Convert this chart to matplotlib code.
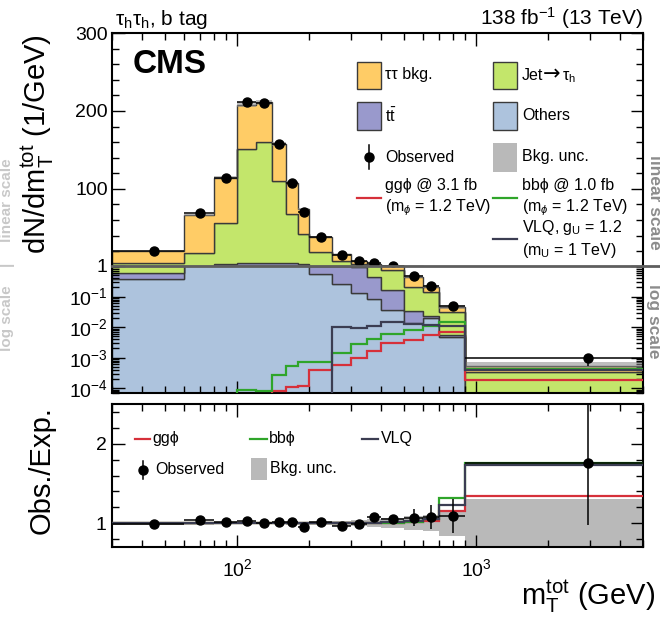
import numpy as np
import matplotlib
matplotlib.use("Agg")
import matplotlib.pyplot as plt
from matplotlib.lines import Line2D
from matplotlib.patches import Rectangle
from matplotlib.ticker import MultipleLocator, LogLocator, NullFormatter, FixedLocator

plt.rcParams["font.family"] = ["Liberation Sans", "DejaVu Sans"]
plt.rcParams["mathtext.fontset"] = "custom"
plt.rcParams["mathtext.rm"] = "Liberation Sans"
plt.rcParams["mathtext.it"] = "Liberation Sans:italic"
plt.rcParams["mathtext.bf"] = "Liberation Sans:bold"

# m_T^tot binning (GeV)
bin_edges = [30, 60, 80, 100, 120, 140, 160, 180, 200, 250, 300, 350, 400, 500, 600, 700, 900, 5000]

# background stack, events per GeV
bkg_tautau = [14.8, 49.7, 57.9, 57.2, 51.2, 47.0, 40.2, 32.8, 19.6, 8.0, 4.5, 3.15,
              0.61, 0.24, 0.072, 0.016, 0.00022]
bkg_jetfakes = [4.62, 15.7, 53.0, 145.6, 154.8, 105.5, 63.3, 38.1, 17.6, 6.8, 2.1, 0.6,
                0.575, 0.176, 0.115, 0.0254, 0.00028]
bkg_ttbar = [0.21, 0.3, 2.1, 3.6, 3.5, 3.6, 3.2, 2.5, 0.45, 0.75, 0.77, 0.37,
             0.13, 0.021, 0.0034, 0.001, 0.00002]
bkg_others = [0.37, 1.3, 1.5, 1.6, 1.5, 1.4, 1.3, 1.1, 0.55, 0.25, 0.13, 0.081,
              0.036, 0.0134, 0.0196, 0.0046, 0.00003]
bkg_rel_unc = [0.02, 0.02, 0.015, 0.015, 0.015, 0.015, 0.02, 0.02, 0.02, 0.03, 0.04, 0.05,
               0.06, 0.09, 0.10, 0.16, 0.30]

data_obs = [20.3, 69.4, 114.0, 212.0, 210.6, 157.0, 108.0, 70.7, 38.6, 15.1, 7.4, 4.4,
            1.4, 0.48, 0.23, 0.051, 0.00096]

# signal hypotheses
sig_ggphi = [0, 0, 0, 0, 0, 8.4e-5, 1.1e-4, 1.2e-4, 4.0e-4, 5.8e-4, 9.5e-4, 1.7e-3,
             3.0e-3, 3.8e-3, 5.6e-3, 7.1e-3, 1.9e-4]
sig_bbphi = [0, 0, 0, 8.9e-5, 8.3e-5, 2.7e-4, 5.5e-4, 7.5e-4, 7.5e-4, 1.47e-3, 2.8e-3, 4.1e-3,
             6.0e-3, 8.1e-3, 0.0112, 0.0151, 4.2e-4]
sig_vlq = [0, 0, 0, 0, 0, 0, 0, 0, 0, 0.0104, 0.0096, 0.0112,
           0.0151, 0.013, 0.012, 0.011, 4.0e-4]

# lower panel
ratio_obs = [0.99, 1.04, 1.01, 1.03, 1.00, 1.01, 1.01, 0.95, 1.01, 0.97, 0.99, 1.08,
             1.05, 1.07, 1.08, 1.09, 1.76]
ratio_err_lo = [0.01, 0.015, 0.01, 0.01, 0.01, 0.01, 0.01, 0.015, 0.015, 0.02, 0.03, 0.04,
                0.05, 0.11, 0.15, 0.22, 0.78]
ratio_err_hi = [0.01, 0.015, 0.01, 0.01, 0.01, 0.01, 0.01, 0.015, 0.015, 0.02, 0.03, 0.04,
                0.05, 0.11, 0.15, 0.22, 0.75]

C_TT = "#ffcc66"
C_JET = "#c3e66b"
C_TTBAR = "#9999cc"
C_OTH = "#adc3dd"
C_UNC = "#b9b9b9"
C_GG = "#d6303a"
C_BB = "#2fa52a"
C_VLQ = "#3b3d52"
EDGE = "#3a3a3a"

W, H = 660, 618


def fx(x):
    return x / W


def fy(y):
    return 1 - y / H


fig = plt.figure(figsize=(W / 100, H / 100), dpi=100)
L, R = 112, 643
ax_lin = fig.add_axes([fx(L), fy(266), fx(R) - fx(L), fy(33) - fy(266)])
ax_log = fig.add_axes([fx(L), fy(393), fx(R) - fx(L), fy(266) - fy(393)], sharex=ax_lin)
ax_rat = fig.add_axes([fx(L), fy(547), fx(R) - fx(L), fy(404) - fy(547)], sharex=ax_lin)

ax_lin.set_xscale("log")
ax_log.set_yscale("log", nonpositive="clip")
ax_lin.set_xlim(30, 5000)

edges = np.array(bin_edges, dtype=float)
centers = 0.5 * (edges[1:] + edges[:-1])
half = 0.5 * np.diff(edges)

# stacked backgrounds
base = np.full(len(centers), 1e-9)
for vals, col in [(bkg_others, C_OTH), (bkg_ttbar, C_TTBAR), (bkg_jetfakes, C_JET), (bkg_tautau, C_TT)]:
    top = base + np.array(vals)
    for ax in (ax_lin, ax_log):
        ax.stairs(top, edges, baseline=base.copy(), fill=True, facecolor=col,
                  edgecolor=EDGE, linewidth=1.0, zorder=1)
    base = top
total = base
unc = total * np.array(bkg_rel_unc)
for ax in (ax_lin, ax_log):
    ax.stairs(total + unc, edges, baseline=total - unc, fill=True, facecolor="#8a8a8a",
              alpha=0.55, linewidth=0, zorder=2)

# signals (log part only, they are below 1)
for sig, col in [(sig_ggphi, C_GG), (sig_bbphi, C_BB), (sig_vlq, C_VLQ)]:
    ax_log.stairs(np.array(sig, dtype=float), edges, baseline=None, color=col, linewidth=1.6, zorder=3)

obs = np.array(data_obs)
r_obs = np.array(ratio_obs)
yerr = np.array([obs * np.array(ratio_err_lo) / r_obs, obs * np.array(ratio_err_hi) / r_obs])
# each part of the split axis only shows the points in its own range
in_lin = obs >= 1
ax_lin.errorbar(centers[in_lin], obs[in_lin], xerr=half[in_lin], yerr=yerr[:, in_lin], fmt="o",
                color="k", ms=6.5, elinewidth=1.1, capsize=0, zorder=5)
ax_log.errorbar(centers, obs, xerr=half, yerr=yerr, fmt="o", color="k", ms=6.5,
                elinewidth=1.1, capsize=0, zorder=5)

# ratio panel
rel = np.array(bkg_rel_unc)
ax_rat.stairs(1 + rel, edges, baseline=1 - rel, fill=True, facecolor=C_UNC, linewidth=0, zorder=1)
for sig, col in [(sig_ggphi, C_GG), (sig_bbphi, C_BB), (sig_vlq, C_VLQ)]:
    ax_rat.stairs(1 + np.array(sig) / total, edges, baseline=None, color=col, linewidth=1.6, zorder=3)
ax_rat.errorbar(centers, r_obs, xerr=half, yerr=[ratio_err_lo, ratio_err_hi], fmt="o",
                color="k", ms=6.5, elinewidth=1.1, capsize=0, zorder=5)

# axes styling
TICK = 14
for ax in (ax_lin, ax_log, ax_rat):
    for sp in ax.spines.values():
        sp.set_linewidth(1.5)
    ax.tick_params(which="both", direction="in", top=True, right=True, width=1.0, labelsize=TICK)
    ax.tick_params(which="major", length=9)
    ax.tick_params(which="minor", length=5)
    ax.xaxis.set_minor_formatter(NullFormatter())

ax_lin.set_ylim(1, 300)
ax_lin.yaxis.set_major_locator(FixedLocator([100, 200, 300]))
ax_lin.yaxis.set_minor_locator(MultipleLocator(20))
ax_lin.spines["bottom"].set_visible(False)
ax_lin.tick_params(axis="x", which="both", bottom=False, labelbottom=False)
ax_lin.tick_params(axis="y", pad=3)

ax_log.set_ylim(7e-5, 1)
ax_log.yaxis.set_major_locator(FixedLocator([1e-4, 1e-3, 1e-2, 1e-1, 1]))
ax_log.set_yticklabels([r"$\mathregular{10^{-4}}$", r"$\mathregular{10^{-3}}$",
                        r"$\mathregular{10^{-2}}$", r"$\mathregular{10^{-1}}$", "1"])
ax_log.yaxis.set_minor_locator(LogLocator(base=10, subs=np.arange(2, 10), numticks=20))
ax_log.yaxis.set_minor_formatter(NullFormatter())
ax_log.spines["top"].set_visible(False)
ax_log.tick_params(axis="x", which="both", top=False, labelbottom=False)
ax_log.tick_params(axis="y", pad=3)

ax_rat.set_ylim(0.7, 2.5)
ax_rat.yaxis.set_major_locator(FixedLocator([1, 2]))
ax_rat.yaxis.set_minor_locator(MultipleLocator(0.2))
ax_rat.tick_params(axis="y", pad=4)
ax_rat.tick_params(axis="x", pad=8)

# boundary between linear and log parts
fig.add_artist(Line2D([fx(L), fx(W)], [fy(266), fy(266)], color="#5e5e5e", lw=2.0, zorder=10))

# axis titles
fig.text(fx(56), fy(34), r"$\mathregular{dN/dm_{T}^{tot}}$ (1/GeV)", rotation=90,
         ha="right", va="top", fontsize=21)
fig.text(fx(56), fy(470), "Obs./Exp.", rotation=90, ha="right", va="center", fontsize=21)
fig.text(fx(655), fy(605), r"$\mathregular{m_{T}^{tot}}$ (GeV)", ha="right", va="baseline", fontsize=21)

# headers
fig.text(fx(115), fy(25), r"τ$_\mathregular{h}$τ$_\mathregular{h}$, b tag", ha="left",
         va="baseline", fontsize=15)
fig.text(fx(643), fy(25), r"138 fb$^{\mathregular{-1}}$ (13 TeV)", ha="right",
         va="baseline", fontsize=15)
fig.text(fx(133), fy(73), "CMS", ha="left", va="baseline", fontsize=24, fontweight="bold")

# scale markers at the sides
fig.text(fx(654), fy(202), "linear scale", rotation=-90, ha="center", va="center",
         fontsize=12.5, fontweight="bold", color="#8c8c8c")
fig.text(fx(654), fy(321), "log scale", rotation=-90, ha="center", va="center",
         fontsize=12.5, fontweight="bold", color="#8c8c8c")
fig.text(fx(7), fy(200), "linear scale", rotation=90, ha="center", va="center",
         fontsize=11, fontweight="bold", color="#c8c8c8")
fig.text(fx(7), fy(264), "|", rotation=90, ha="center", va="center",
         fontsize=11, fontweight="bold", color="#c8c8c8")
fig.text(fx(7), fy(318), "log scale", rotation=90, ha="center", va="center",
         fontsize=11, fontweight="bold", color="#c8c8c8")

# legend of the upper panel
LEG = 11.5


def box(x0, y0, w, h, col, edge=EDGE):
    fig.add_artist(Rectangle((fx(x0), fy(y0 + h)), w / W, h / H, facecolor=col,
                             edgecolor=edge, lw=1.0 if edge != "none" else 0,
                             transform=fig.transFigure))


def hline(x0, x1, y, col):
    fig.add_artist(Line2D([fx(x0), fx(x1)], [fy(y), fy(y)], color=col, lw=1.6))


def obs_mark(x, y, dy):
    fig.add_artist(Line2D([fx(x), fx(x)], [fy(y - dy), fy(y + dy)], color="k", lw=1.1))
    fig.add_artist(Line2D([fx(x)], [fy(y)], marker="o", ms=6.5, color="k"))


def label(x, y, s):
    fig.text(fx(x), fy(y), s, ha="left", va="center", fontsize=LEG, linespacing=1.3)


c1_box, c1_txt = 357, 385
c2_box, c2_txt = 493, 522
box(c1_box, 62, 24, 27, C_TT)
label(c1_txt, 75, "ττ bkg.")
box(c2_box, 62, 24, 27, C_JET)
# Jet -> tau_h, arrow from DejaVu so it is full width
fig.text(fx(c2_txt), fy(80), "Jet", ha="left", va="baseline", fontsize=LEG)
fig.text(fx(543), fy(80), "→", ha="left", va="baseline", fontsize=15, family="DejaVu Sans")
fig.text(fx(562), fy(80), r"τ$_\mathregular{h}$", ha="left", va="baseline", fontsize=LEG)
box(c1_box, 102, 24, 28, C_TTBAR)
label(c1_txt, 116, r"$\mathregular{t\bar{t}}$")
box(c2_box, 102, 24, 28, C_OTH)
label(c2_txt, 116, "Others")
obs_mark(369, 157, 12)
label(c1_txt, 157, "Observed")
box(c2_box, 143, 24, 29, C_UNC, edge="none")
label(c2_txt, 156, "Bkg. unc.")
hline(c1_box, c1_box + 24, 198, C_GG)
label(c1_txt, 198, "ggϕ @ 3.1 fb\n(m$_{\\phi}$ = 1.2 TeV)")
hline(c2_box, c2_box + 24, 198, C_BB)
label(c2_txt, 198, "bbϕ @ 1.0 fb\n(m$_{\\phi}$ = 1.2 TeV)")
hline(c2_box, c2_box + 24, 239, C_VLQ)
label(c2_txt, 239, "VLQ, g$_\\mathregular{U}$ = 1.2\n(m$_\\mathregular{U}$ = 1 TeV)")

# legend of the ratio panel
hline(135, 150, 439, C_GG)
label(152, 439, "ggϕ")
hline(250, 267, 439, C_BB)
label(269, 439, "bbϕ")
hline(362, 378, 439, C_VLQ)
label(381, 439, "VLQ")
obs_mark(143, 470, 9)
label(155, 470, "Observed")
box(251, 458, 16, 22, C_UNC, edge="none")
label(270, 469, "Bkg. unc.")

fig.savefig("out.png", dpi=100)
